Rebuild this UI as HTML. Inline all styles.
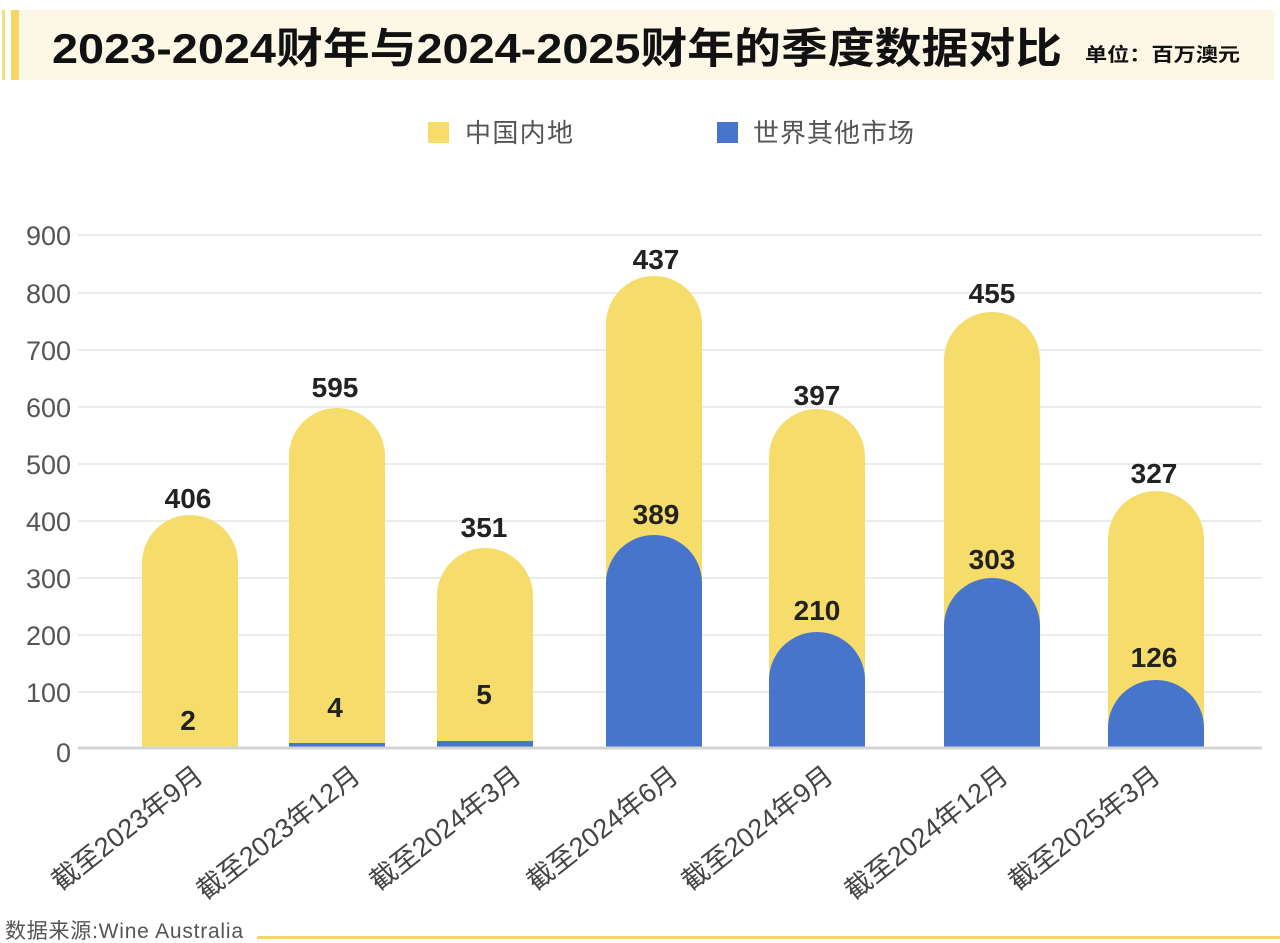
<!DOCTYPE html>
<html><head><meta charset="utf-8"><style>
body{margin:0;background:#fff;}
svg{display:block;font-family:"Liberation Sans","Noto Sans CJK SC",sans-serif;}
</style></head><body>
<svg width="1280" height="943" viewBox="0 0 1280 943" xmlns="http://www.w3.org/2000/svg">
<rect x="2" y="10" width="3" height="70" fill="#f5df7a"/>
<rect x="11" y="10" width="8" height="70" fill="#f3d866"/>
<rect x="19" y="10" width="1255" height="70" fill="#fdf8e6"/>
<text x="52" y="63" font-size="42" font-weight="bold" fill="#111" textLength="1010" lengthAdjust="spacingAndGlyphs">2023-2024财年与2024-2025财年的季度数据对比</text>
<text x="1085" y="61" font-size="19" font-weight="bold" fill="#111" textLength="155" lengthAdjust="spacingAndGlyphs">单位：百万澳元</text>
<rect x="428" y="122" width="21" height="21" fill="#f5dc6b"/>
<text x="465" y="142" font-size="26" fill="#555" textLength="108">中国内地</text>
<rect x="717" y="122" width="21" height="21" fill="#4775cc"/>
<text x="753" y="142" font-size="26" fill="#555" textLength="161">世界其他市场</text>
<g stroke="#ececec" stroke-width="2">
<line x1="78" x2="1262" y1="235" y2="235"/><line x1="78" x2="1262" y1="293" y2="293"/>
<line x1="78" x2="1262" y1="350" y2="350"/><line x1="78" x2="1262" y1="407" y2="407"/>
<line x1="78" x2="1262" y1="464" y2="464"/><line x1="78" x2="1262" y1="521" y2="521"/>
<line x1="78" x2="1262" y1="578" y2="578"/><line x1="78" x2="1262" y1="635" y2="635"/>
<line x1="78" x2="1262" y1="692" y2="692"/>
</g>
<g font-size="27" fill="#555" text-anchor="end">
<text x="71" y="245">900</text><text x="71" y="303">800</text><text x="71" y="360">700</text>
<text x="71" y="417">600</text><text x="71" y="474">500</text><text x="71" y="531">400</text>
<text x="71" y="588">300</text><text x="71" y="645">200</text><text x="71" y="702">100</text>
<text x="71" y="762">0</text>
</g>
<g fill="#f5dc6b">
<path d="M142 747V563a48 48 0 0 1 96 0V747Z"/>
<path d="M289 747V456a48 48 0 0 1 96 0V747Z"/>
<path d="M437 747V596a48 48 0 0 1 96 0V747Z"/>
<path d="M606 747V324a48 48 0 0 1 96 0V747Z"/>
<path d="M769 747V457a48 48 0 0 1 96 0V747Z"/>
<path d="M944 747V360a48 48 0 0 1 96 0V747Z"/>
<path d="M1108 747V539a48 48 0 0 1 96 0V747Z"/>
</g>
<g fill="#4775cc">
<rect x="289" y="743" width="96" height="4"/>
<rect x="437" y="741" width="96" height="6"/>
<path d="M606 747V583a48 48 0 0 1 96 0V747Z"/>
<path d="M769 747V680a48 48 0 0 1 96 0V747Z"/>
<path d="M944 747V626a48 48 0 0 1 96 0V747Z"/>
<path d="M1108 747V728a48 48 0 0 1 96 0V747Z"/>
</g>
<line x1="78" x2="1262" y1="748" y2="748" stroke="#d4d4d4" stroke-width="3"/>
<g font-size="28" font-weight="bold" fill="#222" text-anchor="middle">
<text x="188" y="508">406</text><text x="335" y="397">595</text><text x="484" y="537">351</text>
<text x="656" y="269">437</text><text x="817" y="405">397</text><text x="992" y="303">455</text>
<text x="1154" y="483">327</text>
<text x="188" y="730">2</text><text x="335" y="717">4</text><text x="484" y="704">5</text>
<text x="656" y="524">389</text><text x="817" y="620">210</text><text x="992" y="569">303</text>
<text x="1154" y="667">126</text>
</g>
<g font-size="27" fill="#444" text-anchor="end">
<text transform="translate(205,779) rotate(-38)">截至2023年9月</text>
<text transform="translate(362,779) rotate(-38)">截至2023年12月</text>
<text transform="translate(523,779) rotate(-38)">截至2024年3月</text>
<text transform="translate(680,779) rotate(-38)">截至2024年6月</text>
<text transform="translate(835,779) rotate(-38)">截至2024年9月</text>
<text transform="translate(1010,779) rotate(-38)">截至2024年12月</text>
<text transform="translate(1162,779) rotate(-38)">截至2025年3月</text>
</g>
<text x="5" y="938" font-size="21" fill="#555" textLength="238">数据来源:Wine Australia</text>
<rect x="257" y="936" width="1023" height="3" fill="#f3d866"/>
</svg>
</body></html>
